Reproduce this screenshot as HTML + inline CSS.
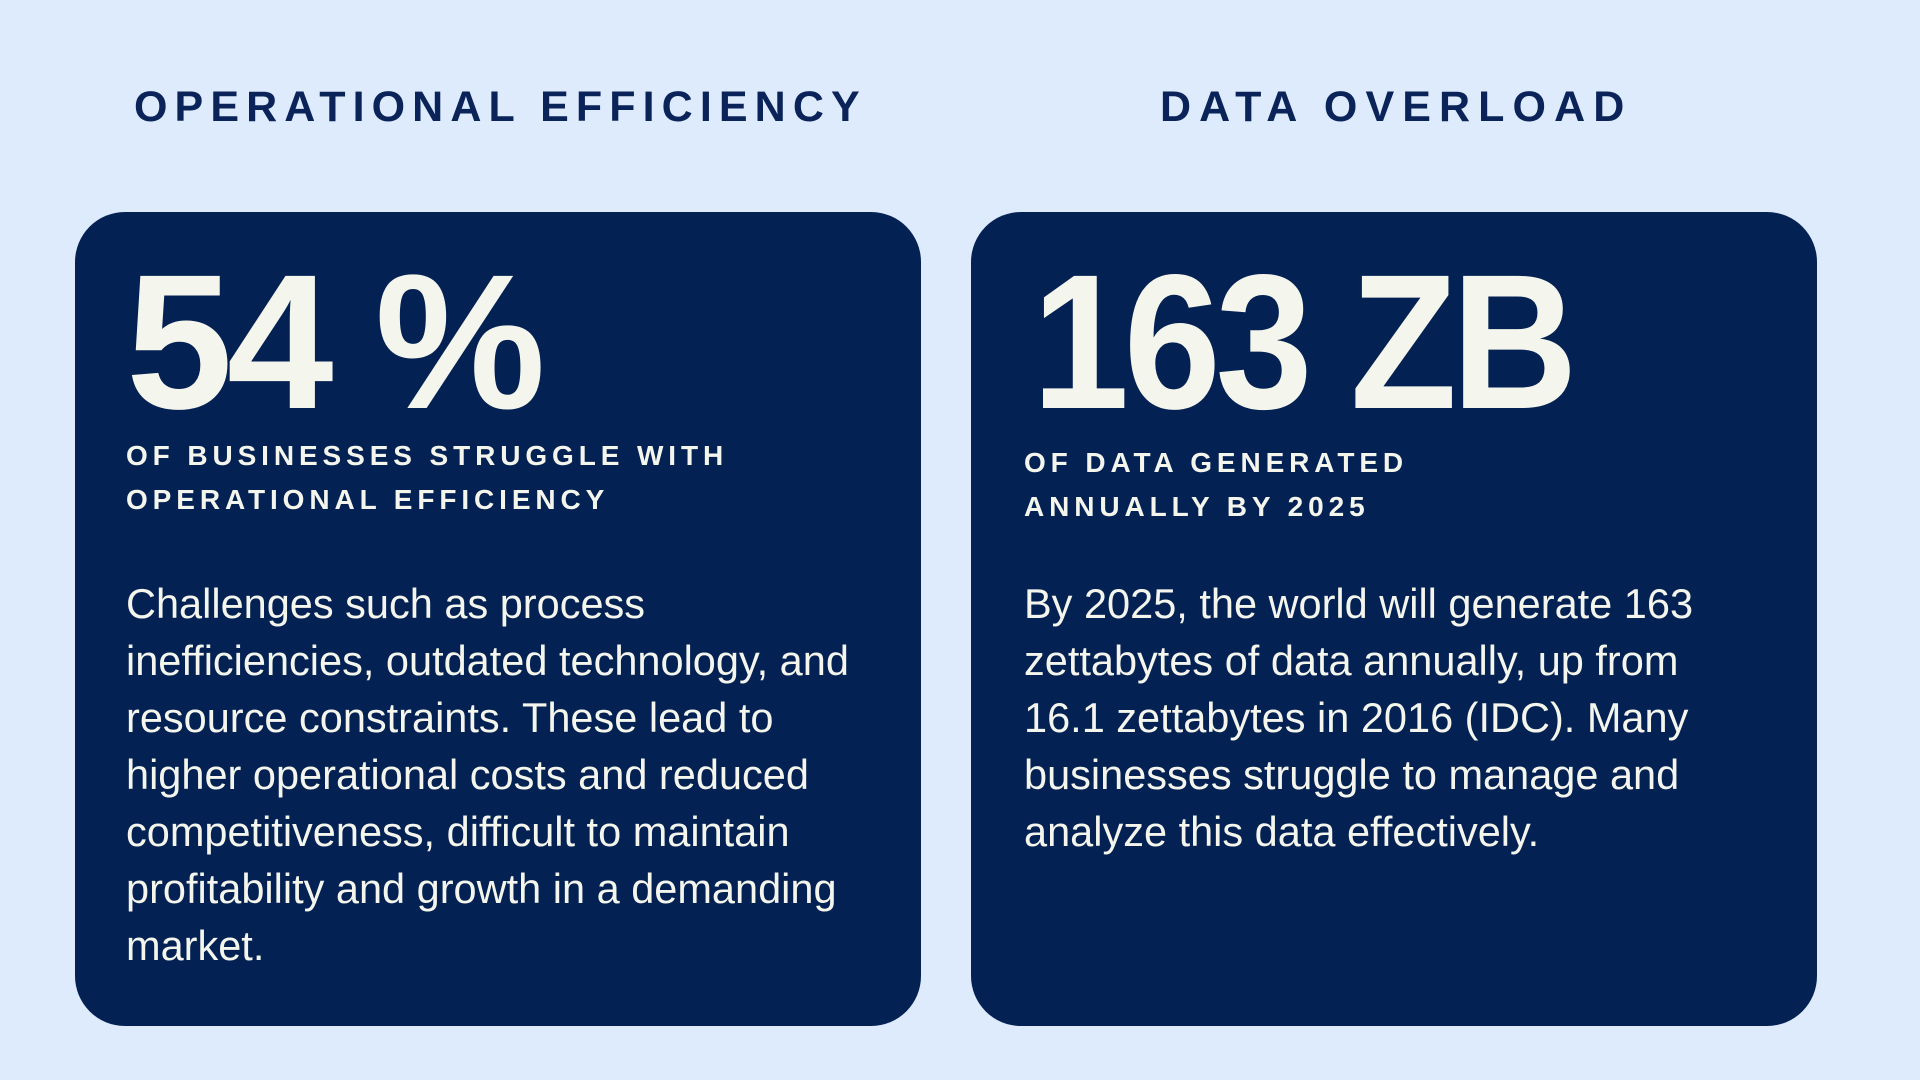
<!DOCTYPE html>
<html><head><meta charset="utf-8"><style>
html,body{margin:0;padding:0}
body{width:1920px;height:1080px;background:#deebfd;position:relative;overflow:hidden;font-family:"Liberation Sans",sans-serif}
.h{position:absolute;top:83px;font-weight:bold;font-size:43px;letter-spacing:7.1px;color:#0a2358;white-space:nowrap}
.card{position:absolute;top:212px;width:846px;height:814px;background:#032153;border-radius:50px}
.big{position:absolute;font-weight:bold;font-size:192px;color:#f4f5ec;letter-spacing:-6px;line-height:1;white-space:nowrap;transform-origin:left top}
.sub{position:absolute;font-weight:bold;font-size:28px;letter-spacing:4.9px;color:#f4f5ec;line-height:44px;white-space:nowrap}
.body{position:absolute;font-size:41.5px;color:#f4f5ec;line-height:57px;white-space:nowrap}
</style></head><body>
<div class="h" style="left:134px">OPERATIONAL EFFICIENCY</div>
<div class="h" style="left:1160px;letter-spacing:8.1px">DATA OVERLOAD</div>
<div class="card" style="left:75px"></div>
<div class="card" style="left:971px"></div>
<div class="big" style="left:126px;top:246px">54 %</div>
<div class="sub" style="left:126px;top:434px">OF BUSINESSES STRUGGLE WITH<br>OPERATIONAL EFFICIENCY</div>
<div class="body" style="left:126px;top:575px">Challenges such as process<br>inefficiencies, outdated technology, and<br>resource constraints. These lead to<br>higher operational costs and reduced<br>competitiveness, difficult to maintain<br>profitability and growth in a demanding<br>market.</div>
<div class="big" style="left:1032px;top:246px;transform:scaleX(0.91)">163 ZB</div>
<div class="sub" style="left:1024px;top:441px">OF DATA GENERATED<br>ANNUALLY BY 2025</div>
<div class="body" style="left:1024px;top:575px">By 2025, the world will generate 163<br>zettabytes of data annually, up from<br>16.1 zettabytes in 2016 (IDC). Many<br>businesses struggle to manage and<br>analyze this data effectively.</div>
</body></html>
